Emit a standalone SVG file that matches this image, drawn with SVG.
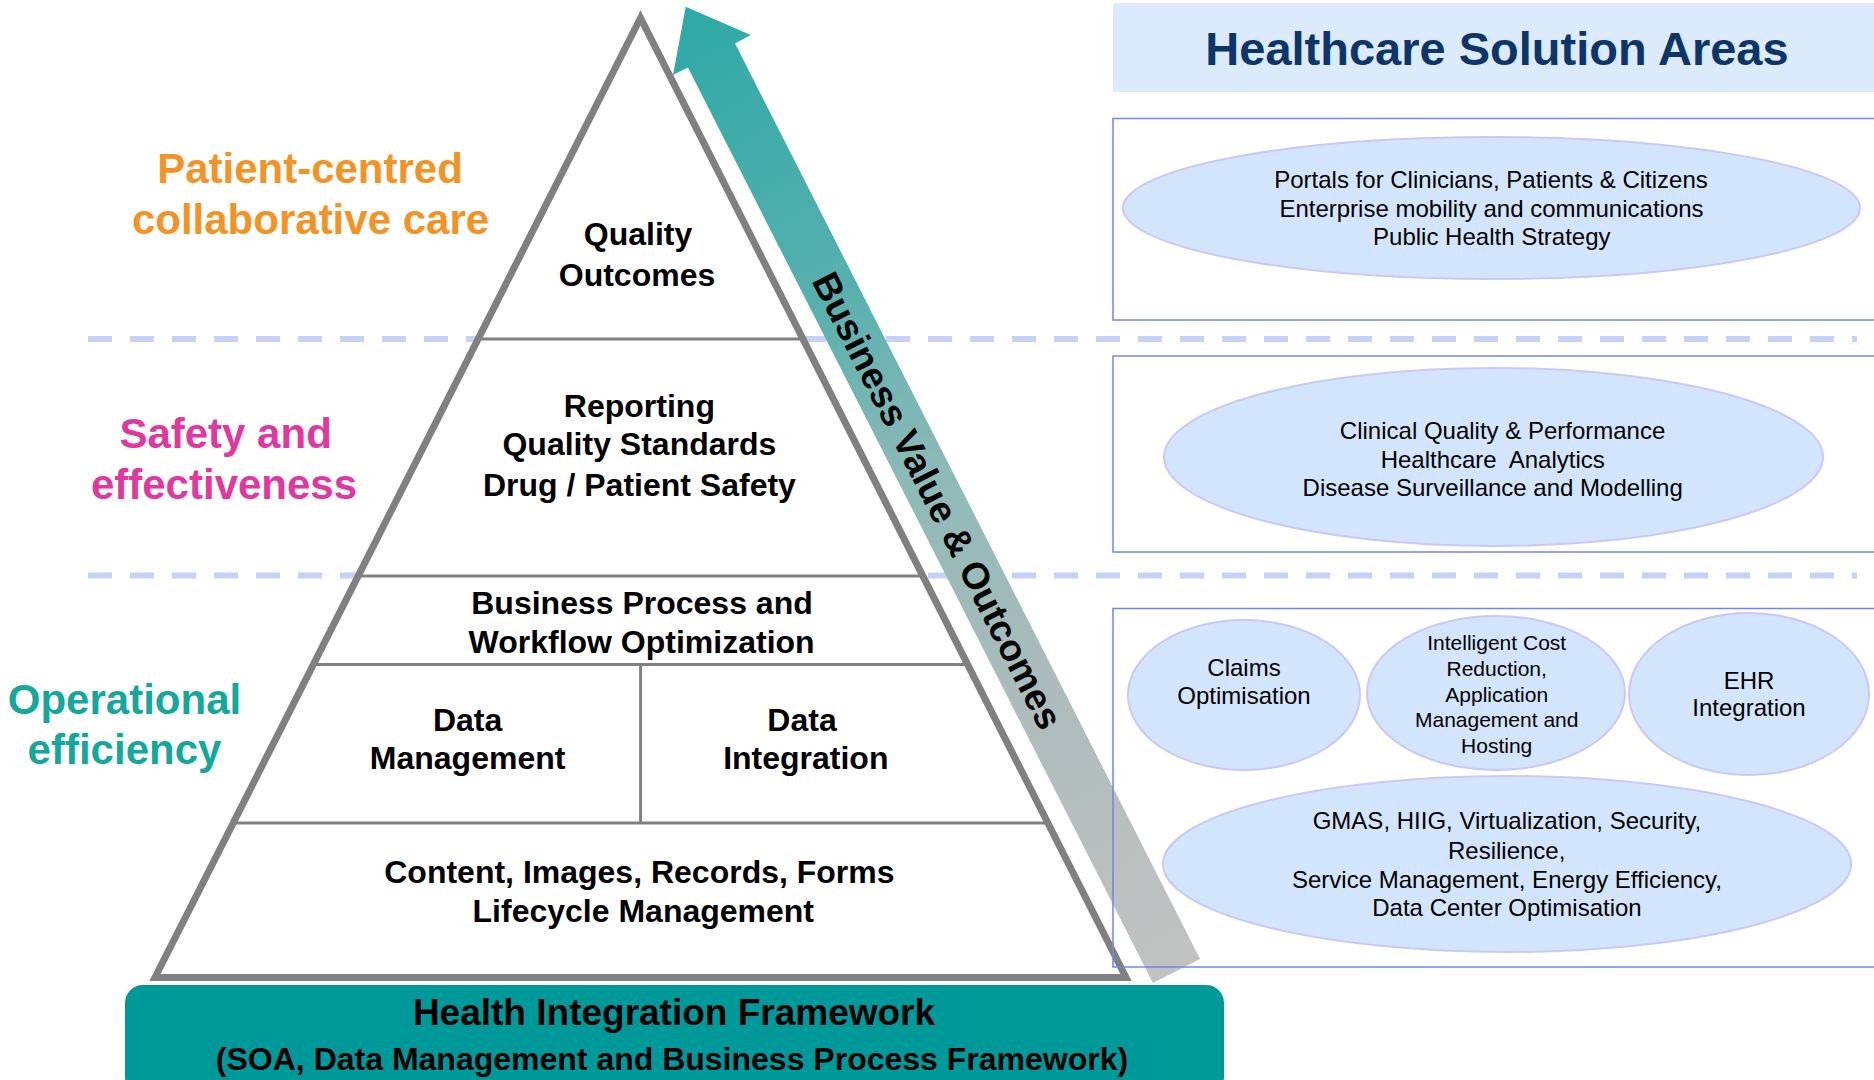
<svg xmlns="http://www.w3.org/2000/svg" width="1874" height="1080" viewBox="0 0 1874 1080">
<defs>
<style>
text{font-family:"Liberation Sans",Arial,sans-serif;text-anchor:middle}
.pyr{font-size:32px;font-weight:bold;fill:#000}
.lbl{font-size:42px;font-weight:bold}
.ell{font-size:24px;fill:#000}
.sm{font-size:21px;fill:#000}
.ln{stroke:#808080;stroke-width:3;fill:none}
.dash{stroke:#c6d0f9;stroke-width:6;stroke-dasharray:24 18;fill:none}
.area{fill:none;stroke:#7383ef;stroke-width:1.5}
.bub{fill:#d3e5fd;stroke:#cac8f6;stroke-width:2}
</style>
<linearGradient id="arrowGrad" gradientUnits="userSpaceOnUse" x1="686" y1="7" x2="1176" y2="971">
<stop offset="0" stop-color="#2ea9a7"/>
<stop offset="0.3" stop-color="#58b0ae"/>
<stop offset="0.48" stop-color="#8cb9b7"/>
<stop offset="0.72" stop-color="#adbcbb"/>
<stop offset="1" stop-color="#c2c2c2"/>
</linearGradient>
</defs>
<rect x="0" y="0" width="1874" height="1080" fill="#fff"/>

<g id="dividers">
<line class="dash" x1="88" y1="339" x2="1857" y2="339"/>
<line class="dash" x1="88" y1="575.5" x2="1857" y2="575.5"/>
</g>

<g id="connectors">
<path id="business-value-arrow" d="M685.7,6.7 L750.7,35 L735.1,43.5 L1200.1,959 L1152.9,983 L687.9,67.5 L673,75 Z" fill="url(#arrowGrad)"/>
<text transform="translate(926,506.5) rotate(63.07)" style="font-size:37.5px;font-weight:bold" fill="#000">Business Value &amp; Outcomes</text>
</g>

<g id="pyramid">
<path d="M640.5,18 L155,977.5 L1126,977.5 Z" fill="#fff" stroke="#808080" stroke-width="7"/>
<line class="ln" x1="478" y1="339" x2="803" y2="339"/>
<line class="ln" x1="358" y1="576" x2="923" y2="576"/>
<line class="ln" x1="313" y1="664.5" x2="968" y2="664.5"/>
<line class="ln" x1="233" y1="823" x2="1048" y2="823"/>
<line class="ln" x1="640.6" y1="664.5" x2="640.6" y2="823"/>
</g>

<g id="node-quality-outcomes">
<text class="pyr" x="638" y="244.5">Quality</text>
<text class="pyr" x="637" y="286">Outcomes</text>
</g>
<g id="node-reporting">
<text class="pyr" x="639.4" y="416.7">Reporting</text>
<text class="pyr" x="639.4" y="454.5">Quality Standards</text>
<text class="pyr" x="639.4" y="496">Drug / Patient Safety</text>
</g>
<g id="node-business-process">
<text class="pyr" x="642" y="614">Business Process and</text>
<text class="pyr" x="641.6" y="653">Workflow Optimization</text>
</g>
<g id="node-data-management">
<text class="pyr" x="467.6" y="731">Data</text>
<text class="pyr" x="467.6" y="769">Management</text>
</g>
<g id="node-data-integration">
<text class="pyr" x="802" y="731">Data</text>
<text class="pyr" x="805.8" y="769">Integration</text>
</g>
<g id="node-content">
<text class="pyr" x="639.4" y="882.6">Content, Images, Records, Forms</text>
<text class="pyr" x="643.3" y="921.5">Lifecycle Management</text>
</g>

<g id="label-patient">
<text class="lbl" x="310" y="182.5" fill="#f39325">Patient-centred</text>
<text class="lbl" x="310.5" y="234" fill="#f39325">collaborative care</text>
</g>
<g id="label-safety">
<text class="lbl" x="225.6" y="447.7" fill="#e0389f">Safety and</text>
<text class="lbl" x="224" y="499" fill="#e0389f">effectiveness</text>
</g>
<g id="label-operational">
<text class="lbl" x="124.5" y="714" fill="#14a79c">Operational</text>
<text class="lbl" x="124.5" y="764" fill="#14a79c">efficiency</text>
</g>

<g id="node-framework">
<rect x="125" y="985" width="1099" height="110" rx="18" fill="#009999"/>
<text x="674" y="1025" style="font-size:37px;font-weight:bold" fill="#000">Health Integration Framework</text>
<text x="672" y="1070" style="font-size:32px;font-weight:bold" fill="#000">(SOA, Data Management and Business Process Framework)</text>
</g>

<g id="node-title">
<rect x="1113" y="3" width="770" height="89" fill="#dcebfc"/>
<text x="1497" y="65" style="font-size:47px;font-weight:bold" fill="#0d3567">Healthcare Solution Areas</text>
</g>

<g id="area-1">
<rect class="area" x="1113" y="118.5" width="780" height="201.5"/>
<ellipse class="bub" cx="1491.5" cy="208" rx="368.5" ry="71"/>
<text class="ell" x="1491" y="188">Portals for Clinicians, Patients &amp; Citizens</text>
<text class="ell" x="1491.5" y="217">Enterprise mobility and communications</text>
<text class="ell" x="1491.8" y="245">Public Health Strategy</text>
</g>

<g id="area-2">
<rect class="area" x="1113" y="356" width="780" height="196"/>
<ellipse class="bub" cx="1493.5" cy="457" rx="329.5" ry="89"/>
<text class="ell" x="1502.6" y="439">Clinical Quality &amp; Performance</text>
<text class="ell" x="1492.7" y="468" xml:space="preserve">Healthcare  Analytics</text>
<text class="ell" x="1492.7" y="496">Disease Surveillance and Modelling</text>
</g>

<g id="area-3">
<rect class="area" x="1113" y="608.5" width="780" height="358.5"/>
</g>
<g id="node-claims">
<ellipse class="bub" cx="1244" cy="695" rx="116" ry="75"/>
<text class="ell" x="1244" y="676">Claims</text>
<text class="ell" x="1244" y="704">Optimisation</text>
</g>
<g id="node-intelligent-cost">
<ellipse class="bub" cx="1496" cy="693" rx="129" ry="77"/>
<text class="sm" x="1496.7" y="649.5">Intelligent Cost</text>
<text class="sm" x="1496.7" y="676">Reduction,</text>
<text class="sm" x="1496.7" y="702">Application</text>
<text class="sm" x="1496.7" y="727">Management and</text>
<text class="sm" x="1496.7" y="753">Hosting</text>
</g>
<g id="node-ehr">
<ellipse class="bub" cx="1749" cy="694" rx="120" ry="81"/>
<text class="ell" x="1749" y="689">EHR</text>
<text class="ell" x="1749" y="716">Integration</text>
</g>
<g id="node-gmas">
<ellipse class="bub" cx="1507" cy="864" rx="344" ry="88"/>
<text class="ell" x="1507" y="829">GMAS, HIIG, Virtualization, Security,</text>
<text class="ell" x="1506.7" y="858.5">Resilience,</text>
<text class="ell" x="1507" y="888">Service Management, Energy Efficiency,</text>
<text class="ell" x="1507" y="916">Data Center Optimisation</text>
</g>
</svg>
